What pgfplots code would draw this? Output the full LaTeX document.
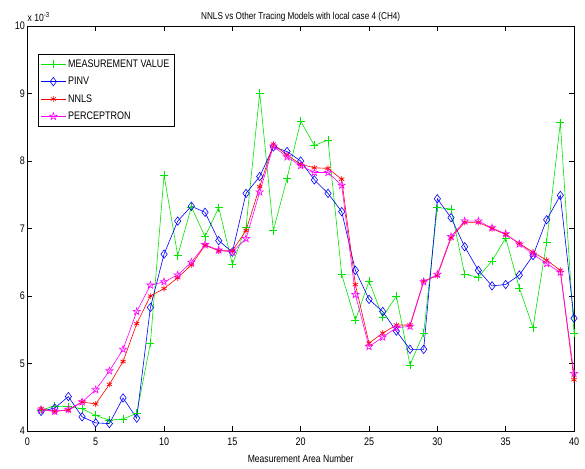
\documentclass[border=0pt]{standalone}
\usepackage{pgfplots}
\usepackage{pgfplotstable}
\pgfplotsset{compat=1.18}
\usepackage{fontspec}
\setmainfont{Liberation Sans}[FakeStretch=0.82]
\pgfdeclareplotmark{pentagram}{%
  \pgfpathmoveto{\pgfpointpolar{90}{\pgfplotmarksize}}%
  \pgfpathlineto{\pgfpointpolar{126}{0.4\pgfplotmarksize}}%
  \pgfpathlineto{\pgfpointpolar{162}{\pgfplotmarksize}}%
  \pgfpathlineto{\pgfpointpolar{198}{0.4\pgfplotmarksize}}%
  \pgfpathlineto{\pgfpointpolar{234}{\pgfplotmarksize}}%
  \pgfpathlineto{\pgfpointpolar{270}{0.4\pgfplotmarksize}}%
  \pgfpathlineto{\pgfpointpolar{306}{\pgfplotmarksize}}%
  \pgfpathlineto{\pgfpointpolar{342}{0.4\pgfplotmarksize}}%
  \pgfpathlineto{\pgfpointpolar{18}{\pgfplotmarksize}}%
  \pgfpathlineto{\pgfpointpolar{54}{0.4\pgfplotmarksize}}%
  \pgfpathclose
  \pgfusepathqstroke
}
\definecolor{mgreen}{RGB}{0,230,0}
\definecolor{mblue}{RGB}{0,0,255}
\definecolor{mred}{RGB}{255,0,0}
\definecolor{mmag}{RGB}{255,0,255}
\pgfplotstableread{
x meas pinv nnls perc
1 4.31 4.29 4.33 4.31
2 4.37 4.34 4.29 4.29
3 4.36 4.51 4.31 4.32
4 4.33 4.21 4.43 4.43
5 4.23 4.12 4.40 4.61
6 4.16 4.11 4.69 4.89
7 4.18 4.49 5.03 5.21
8 4.26 4.19 5.59 5.77
9 5.30 5.83 6.00 6.16
10 7.79 6.62 6.11 6.21
11 6.60 7.11 6.27 6.31
12 7.32 7.33 6.46 6.50
13 6.88 7.24 6.75 6.76
14 7.31 6.82 6.67 6.68
15 6.47 6.65 6.67 6.65
16 7.02 7.52 6.97 6.85
17 9.01 7.77 7.62 7.54
18 6.97 8.21 8.25 8.22
19 7.74 8.14 8.09 8.06
20 8.59 8.00 7.95 7.93
21 8.23 7.72 7.90 7.83
22 8.31 7.52 7.89 7.83
23 6.32 7.25 7.73 7.64
24 5.64 6.38 6.17 6.02
25 6.22 5.95 5.30 5.25
26 5.69 5.77 5.45 5.39
27 6.00 5.48 5.57 5.53
28 4.98 5.21 5.57 5.55
29 5.45 5.21 6.22 6.21
30 7.31 7.44 6.30 6.32
31 7.29 7.16 6.86 6.88
32 6.32 6.73 7.09 7.11
33 6.28 6.38 7.09 7.11
34 6.52 6.15 7.00 7.01
35 6.86 6.17 6.91 6.92
36 6.12 6.31 6.78 6.77
37 5.53 6.60 6.65 6.62
38 6.80 7.13 6.53 6.48
39 8.57 7.49 6.38 6.35
40 5.45 5.67 4.76 4.85
}\datatable
\begin{document}
\begin{tikzpicture}
\path[use as bounding box] (-27.4bp,-38bp) rectangle (557.6bp,431bp);
\begin{axis}[
  scale only axis,
  width=546.6bp, height=405bp,
  xmin=0, xmax=40, ymin=4, ymax=10,
  xtick={0,5,...,40}, ytick={4,5,...,10},
  /pgf/number format/assume math mode=true,
  tick align=inside,
  major tick length=5bp,
  tick style={black, line width=0.5bp},
  axis line style={black, line width=0.6bp},
  tick label style={font=\fontsize{11}{12}\selectfont},
  xticklabel style={yshift=-3.5bp},
  yticklabel style={xshift=1bp},
  title={NNLS vs Other Tracing Models with local case 4 (CH4)},
  title style={font=\fontsize{10}{12}\selectfont, at={(0.5,1)}, anchor=south, yshift=-5.5bp},
  xlabel={Measurement Area Number},
  xlabel style={font=\fontsize{10.5}{12}\selectfont, yshift=-2bp},
  legend style={at={(rel axis cs:0.019,0.930)}, anchor=north west,
    draw=black, line width=0.6bp, font=\fontsize{11}{12}\selectfont,
    row sep=4.3bp, inner xsep=2.5bp, inner ysep=3bp},
  legend cell align=left,
  legend image code/.code={%
    \draw[mark repeat=2,mark phase=2,#1] plot coordinates {(0cm,0cm) (0.44cm,0cm) (0.88cm,0cm)};},
  every axis plot/.append style={line width=0.6bp},
  clip=false,
]
\addplot[mgreen, mark=+, mark size=4bp, mark options={line width=0.6bp}] table[x=x,y=meas] {\datatable};
\addlegendentry{MEASUREMENT VALUE}
\addplot[mblue, mark=diamond, mark size=4.2bp, mark options={line width=0.6bp}] table[x=x,y=pinv] {\datatable};
\addlegendentry{PINV}
\addplot[mred, mark=asterisk, mark size=3bp, mark options={line width=0.7bp}] table[x=x,y=nnls] {\datatable};
\addlegendentry{NNLS}
\addplot[mmag, mark=pentagram, mark size=3.8bp, mark options={line width=0.6bp}] table[x=x,y=perc] {\datatable};
\addlegendentry{PERCEPTRON}
\node[anchor=base west, font=\fontsize{10.5}{12}\selectfont, inner sep=0pt] at ([yshift=5bp]rel axis cs:0,1) {x 10\textsuperscript{-3}};
\end{axis}
\end{tikzpicture}
\end{document}
